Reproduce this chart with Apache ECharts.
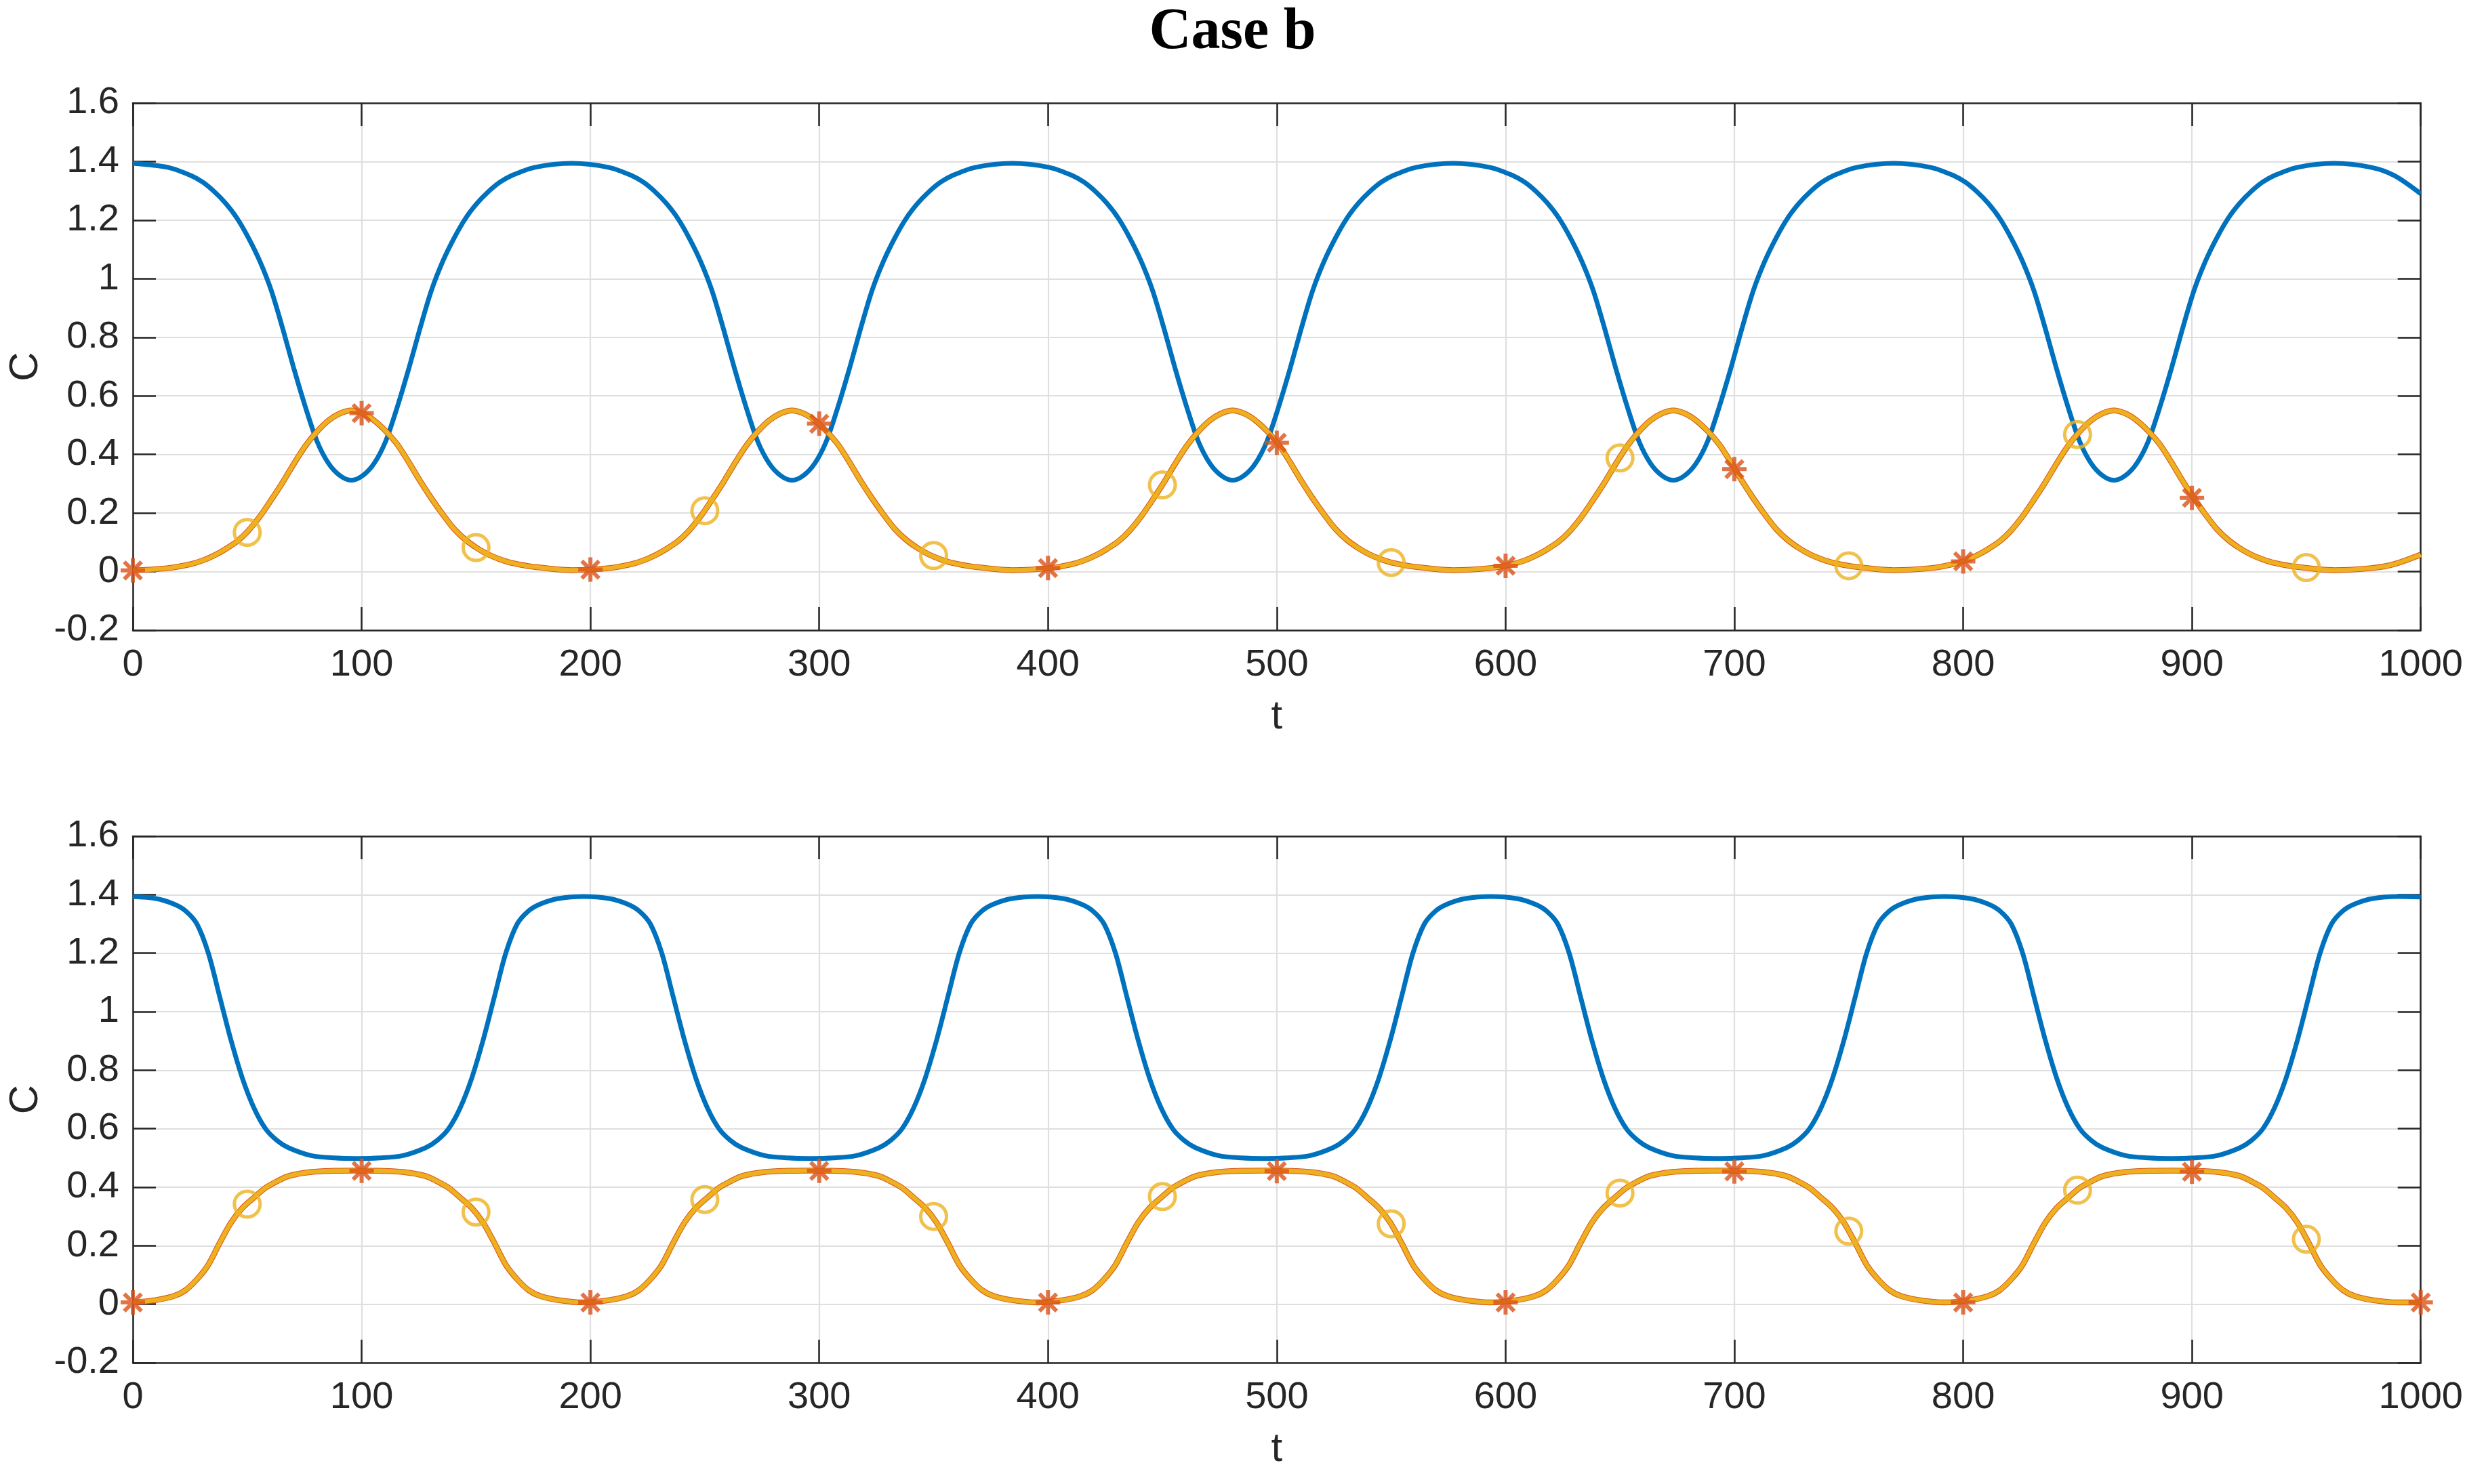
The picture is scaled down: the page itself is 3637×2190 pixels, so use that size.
<!DOCTYPE html>
<html>
<head>
<meta charset="utf-8">
<script src="https://cdn.jsdelivr.net/npm/echarts@6/dist/echarts.min.js"></script>
<style>html,body{margin:0;padding:0;background:#fff;}#c{width:3637px;height:2190px;}</style>
</head>
<body>
<div id="c"></div>
<script>
// ---------- data ----------
const xTicks = [0, 100, 200, 300, 400, 500, 600, 700, 800, 900, 1000];
const yTicks = [-0.2, 0, 0.2, 0.4, 0.6, 0.8, 1, 1.2, 1.4, 1.6];

// top panel: time samples
const tTop = [0,
 15.5, 25.5, 30.5, 35.5, 40.5, 45.5, 50.5, 55.5, 60.5, 65.5, 70.5, 75.5, 80.5, 85.5, 90.5, 95.5, 100.5, 105.5, 110.5, 115.5, 120.5, 125.5, 130.5, 135.5, 140.5, 145.5, 150.5, 155.5, 160.5, 165.5, 175.5, 191.8,
 208.1, 218.1, 223.1, 228.1, 233.1, 238.1, 243.1, 248.1, 253.1, 258.1, 263.1, 268.1, 273.1, 278.1, 283.1, 288.1, 293.1, 298.1, 303.1, 308.1, 313.1, 318.1, 323.1, 328.1, 333.1, 338.1, 343.1, 348.1, 353.1, 358.1, 368.1, 384.4,
 400.7, 410.7, 415.7, 420.7, 425.7, 430.7, 435.7, 440.7, 445.7, 450.7, 455.7, 460.7, 465.7, 470.7, 475.7, 480.7, 485.7, 490.7, 495.7, 500.7, 505.7, 510.7, 515.7, 520.7, 525.7, 530.7, 535.7, 540.7, 545.7, 550.7, 560.7, 577.0,
 593.3, 603.3, 608.3, 613.3, 618.3, 623.3, 628.3, 633.3, 638.3, 643.3, 648.3, 653.3, 658.3, 663.3, 668.3, 673.3, 678.3, 683.3, 688.3, 693.3, 698.3, 703.3, 708.3, 713.3, 718.3, 723.3, 728.3, 733.3, 738.3, 743.3, 753.3, 769.6,
 785.9, 795.9, 800.9, 805.9, 810.9, 815.9, 820.9, 825.9, 830.9, 835.9, 840.9, 845.9, 850.9, 855.9, 860.9, 865.9, 870.9, 875.9, 880.9, 885.9, 890.9, 895.9, 900.9, 905.9, 910.9, 915.9, 920.9, 925.9, 930.9, 935.9, 945.9, 962.2,
 978.5, 988.5, 1000];

const blueTop = [1.394,
 1.38, 1.352, 1.33, 1.298, 1.258, 1.207, 1.14, 1.06, 0.96, 0.83, 0.69, 0.56, 0.445, 0.37, 0.328, 0.312, 0.328, 0.37, 0.445, 0.56, 0.69, 0.83, 0.96, 1.06, 1.14, 1.207, 1.258, 1.298, 1.33, 1.352, 1.38, 1.394,
 1.38, 1.352, 1.33, 1.298, 1.258, 1.207, 1.14, 1.06, 0.96, 0.83, 0.69, 0.56, 0.445, 0.37, 0.328, 0.312, 0.328, 0.37, 0.445, 0.56, 0.69, 0.83, 0.96, 1.06, 1.14, 1.207, 1.258, 1.298, 1.33, 1.352, 1.38, 1.394,
 1.38, 1.352, 1.33, 1.298, 1.258, 1.207, 1.14, 1.06, 0.96, 0.83, 0.69, 0.56, 0.445, 0.37, 0.328, 0.312, 0.328, 0.37, 0.445, 0.56, 0.69, 0.83, 0.96, 1.06, 1.14, 1.207, 1.258, 1.298, 1.33, 1.352, 1.38, 1.394,
 1.38, 1.352, 1.33, 1.298, 1.258, 1.207, 1.14, 1.06, 0.96, 0.83, 0.69, 0.56, 0.445, 0.37, 0.328, 0.312, 0.328, 0.37, 0.445, 0.56, 0.69, 0.83, 0.96, 1.06, 1.14, 1.207, 1.258, 1.298, 1.33, 1.352, 1.38, 1.394,
 1.38, 1.352, 1.33, 1.298, 1.258, 1.207, 1.14, 1.06, 0.96, 0.83, 0.69, 0.56, 0.445, 0.37, 0.328, 0.312, 0.328, 0.37, 0.445, 0.56, 0.69, 0.83, 0.96, 1.06, 1.14, 1.207, 1.258, 1.298, 1.33, 1.352, 1.38, 1.394,
 1.38, 1.352, 1.29];

const yellowTop = [0.004,
 0.012, 0.026, 0.038, 0.055, 0.077, 0.103, 0.14, 0.188, 0.245, 0.305, 0.37, 0.43, 0.478, 0.516, 0.54, 0.55, 0.54, 0.516, 0.48, 0.435, 0.375, 0.31, 0.25, 0.195, 0.145, 0.108, 0.08, 0.058, 0.042, 0.03, 0.016, 0.005,
 0.012, 0.026, 0.038, 0.055, 0.077, 0.103, 0.14, 0.188, 0.245, 0.305, 0.37, 0.43, 0.478, 0.516, 0.54, 0.55, 0.54, 0.516, 0.48, 0.435, 0.375, 0.31, 0.25, 0.195, 0.145, 0.108, 0.08, 0.058, 0.042, 0.03, 0.016, 0.005,
 0.012, 0.026, 0.038, 0.055, 0.077, 0.103, 0.14, 0.188, 0.245, 0.305, 0.37, 0.43, 0.478, 0.516, 0.54, 0.55, 0.54, 0.516, 0.48, 0.435, 0.375, 0.31, 0.25, 0.195, 0.145, 0.108, 0.08, 0.058, 0.042, 0.03, 0.016, 0.005,
 0.012, 0.026, 0.038, 0.055, 0.077, 0.103, 0.14, 0.188, 0.245, 0.305, 0.37, 0.43, 0.478, 0.516, 0.54, 0.55, 0.54, 0.516, 0.48, 0.435, 0.375, 0.31, 0.25, 0.195, 0.145, 0.108, 0.08, 0.058, 0.042, 0.03, 0.016, 0.005,
 0.012, 0.026, 0.038, 0.055, 0.077, 0.103, 0.14, 0.188, 0.245, 0.305, 0.37, 0.43, 0.478, 0.516, 0.54, 0.55, 0.54, 0.516, 0.48, 0.435, 0.375, 0.31, 0.25, 0.195, 0.145, 0.108, 0.08, 0.058, 0.042, 0.03, 0.016, 0.005,
 0.012, 0.026, 0.058];

const starTTop = [0, 100, 200, 300, 400, 500, 600, 700, 800, 900];
const starTop  = [0.004, 0.541, 0.007, 0.505, 0.012, 0.44, 0.02, 0.35, 0.035, 0.252];
const circT    = [50, 150, 250, 350, 450, 550, 650, 750, 850, 950];
const circTop  = [0.134, 0.082, 0.208, 0.055, 0.296, 0.031, 0.388, 0.02, 0.468, 0.014];

// bottom panel
const tBot = [0,
 10, 18, 23, 28, 33, 38, 43, 48, 53, 58, 63, 68, 78, 88, 98, 108, 118, 128, 133, 138, 143, 148, 153, 158, 163, 168, 173, 178, 186, 197.1,
 208.2, 216.2, 221.2, 226.2, 231.2, 236.2, 241.2, 246.2, 251.2, 256.2, 261.2, 266.2, 276.2, 286.2, 296.2, 306.2, 316.2, 326.2, 331.2, 336.2, 341.2, 346.2, 351.2, 356.2, 361.2, 366.2, 371.2, 376.2, 384.2, 395.4,
 406.5, 414.5, 419.5, 424.5, 429.5, 434.5, 439.5, 444.5, 449.5, 454.5, 459.5, 464.5, 474.5, 484.5, 494.5, 504.5, 514.5, 524.5, 529.5, 534.5, 539.5, 544.5, 549.5, 554.5, 559.5, 564.5, 569.5, 574.5, 582.5, 593.6,
 604.8, 612.8, 617.8, 622.8, 627.8, 632.8, 637.8, 642.8, 647.8, 652.8, 657.8, 662.8, 672.8, 682.8, 692.8, 702.8, 712.8, 722.8, 727.8, 732.8, 737.8, 742.8, 747.8, 752.8, 757.8, 762.8, 767.8, 772.8, 780.8, 791.9,
 803, 811, 816, 821, 826, 831, 836, 841, 846, 851, 856, 861, 871, 881, 891, 901, 911, 921, 926, 931, 936, 941, 946, 951, 956, 961, 966, 971, 979, 990.1,
 1000];

const blueBot = [1.394,
 1.387, 1.368, 1.345, 1.30, 1.20, 1.05, 0.90, 0.77, 0.67, 0.60, 0.56, 0.535, 0.508, 0.500, 0.498, 0.500, 0.508, 0.535, 0.56, 0.60, 0.67, 0.77, 0.90, 1.05, 1.20, 1.30, 1.345, 1.368, 1.387, 1.394,
 1.387, 1.368, 1.345, 1.30, 1.20, 1.05, 0.90, 0.77, 0.67, 0.60, 0.56, 0.535, 0.508, 0.500, 0.498, 0.500, 0.508, 0.535, 0.56, 0.60, 0.67, 0.77, 0.90, 1.05, 1.20, 1.30, 1.345, 1.368, 1.387, 1.394,
 1.387, 1.368, 1.345, 1.30, 1.20, 1.05, 0.90, 0.77, 0.67, 0.60, 0.56, 0.535, 0.508, 0.500, 0.498, 0.500, 0.508, 0.535, 0.56, 0.60, 0.67, 0.77, 0.90, 1.05, 1.20, 1.30, 1.345, 1.368, 1.387, 1.394,
 1.387, 1.368, 1.345, 1.30, 1.20, 1.05, 0.90, 0.77, 0.67, 0.60, 0.56, 0.535, 0.508, 0.500, 0.498, 0.500, 0.508, 0.535, 0.56, 0.60, 0.67, 0.77, 0.90, 1.05, 1.20, 1.30, 1.345, 1.368, 1.387, 1.394,
 1.387, 1.368, 1.345, 1.30, 1.20, 1.05, 0.90, 0.77, 0.67, 0.60, 0.56, 0.535, 0.508, 0.500, 0.498, 0.500, 0.508, 0.535, 0.56, 0.60, 0.67, 0.77, 0.90, 1.05, 1.20, 1.30, 1.345, 1.368, 1.387, 1.394,
 1.392];

const yellowBot = [0.006,
 0.014, 0.028, 0.048, 0.085, 0.135, 0.21, 0.28, 0.33, 0.365, 0.398, 0.42, 0.438, 0.452, 0.456, 0.457, 0.456, 0.452, 0.438, 0.42, 0.398, 0.365, 0.33, 0.28, 0.21, 0.135, 0.085, 0.048, 0.028, 0.014, 0.006,
 0.014, 0.028, 0.048, 0.085, 0.135, 0.21, 0.28, 0.33, 0.365, 0.398, 0.42, 0.438, 0.452, 0.456, 0.457, 0.456, 0.452, 0.438, 0.42, 0.398, 0.365, 0.33, 0.28, 0.21, 0.135, 0.085, 0.048, 0.028, 0.014, 0.006,
 0.014, 0.028, 0.048, 0.085, 0.135, 0.21, 0.28, 0.33, 0.365, 0.398, 0.42, 0.438, 0.452, 0.456, 0.457, 0.456, 0.452, 0.438, 0.42, 0.398, 0.365, 0.33, 0.28, 0.21, 0.135, 0.085, 0.048, 0.028, 0.014, 0.006,
 0.014, 0.028, 0.048, 0.085, 0.135, 0.21, 0.28, 0.33, 0.365, 0.398, 0.42, 0.438, 0.452, 0.456, 0.457, 0.456, 0.452, 0.438, 0.42, 0.398, 0.365, 0.33, 0.28, 0.21, 0.135, 0.085, 0.048, 0.028, 0.014, 0.006,
 0.014, 0.028, 0.048, 0.085, 0.135, 0.21, 0.28, 0.33, 0.365, 0.398, 0.42, 0.438, 0.452, 0.456, 0.457, 0.456, 0.452, 0.438, 0.42, 0.398, 0.365, 0.33, 0.28, 0.21, 0.135, 0.085, 0.048, 0.028, 0.014, 0.006,
 0.006];

const starTBot = [0, 100, 200, 300, 400, 500, 600, 700, 800, 900, 1000];
const starBot  = [0.006, 0.456, 0.006, 0.456, 0.006, 0.455, 0.006, 0.454, 0.006, 0.453, 0.006];
const circBot  = [0.342, 0.315, 0.358, 0.30, 0.368, 0.275, 0.38, 0.25, 0.39, 0.222];

const titleText = 'Case b';
const xName = 't';
const yName = 'C';

// ---------- styling ----------
const BLUE = '#0072BD', RED = '#D95319', YEL = '#EDB120', INK = '#262626', GRID = '#DFDFDF';
const FONT = 'Liberation Sans';
const STAR = 'path://M0,-10L0,10M-10,0L10,0M-7.07,-7.07L7.07,7.07M-7.07,7.07L7.07,-7.07';

function pairs(xs, ys) { return xs.map((x, i) => [x, ys[i]]); }

const grids = [
  { left: 196, top: 152, width: 3376, height: 778 },
  { left: 196, top: 1234, width: 3376, height: 777 }
];

function xAxes(gi) {
  const base = { type: 'value', gridIndex: gi, min: xTicks[0], max: xTicks[xTicks.length - 1], interval: xTicks[1] - xTicks[0] };
  return [
    Object.assign({}, base, {
      position: 'bottom',
      axisLine: { show: true, onZero: false, lineStyle: { color: INK, width: 2.5 } },
      axisTick: { show: true, inside: true, length: 34, lineStyle: { color: INK, width: 2.5 } },
      splitLine: { show: true, lineStyle: { color: GRID, width: 2.2 } },
      axisLabel: { fontSize: 56, color: INK, fontFamily: FONT, margin: 24, formatter: v => String(v) },
      name: xName, nameLocation: 'middle', nameGap: 98,
      nameTextStyle: { fontSize: 60, color: INK, fontFamily: FONT }
    }),
    Object.assign({}, base, {
      position: 'top',
      axisLine: { show: true, onZero: false, lineStyle: { color: INK, width: 2.5 } },
      axisTick: { show: true, inside: true, length: 34, lineStyle: { color: INK, width: 2.5 } },
      splitLine: { show: false }, axisLabel: { show: false }
    })
  ];
}
function yAxes(gi) {
  const base = { type: 'value', gridIndex: gi, min: yTicks[0], max: yTicks[yTicks.length - 1], interval: 0.2 };
  return [
    Object.assign({}, base, {
      position: 'left',
      axisLine: { show: true, onZero: false, lineStyle: { color: INK, width: 2.5 } },
      axisTick: { show: true, inside: true, length: 34, lineStyle: { color: INK, width: 2.5 } },
      splitLine: { show: true, lineStyle: { color: GRID, width: 2.2 } },
      axisLabel: { fontSize: 56, color: INK, fontFamily: FONT, margin: 20,
                   formatter: v => String(Math.round(v * 10) / 10) },
      name: yName, nameLocation: 'middle', nameGap: 118, nameRotate: 90,
      nameTextStyle: { fontSize: 60, color: INK, fontFamily: FONT }
    }),
    Object.assign({}, base, {
      position: 'right',
      axisLine: { show: true, onZero: false, lineStyle: { color: INK, width: 2.5 } },
      axisTick: { show: true, inside: true, length: 34, lineStyle: { color: INK, width: 2.5 } },
      splitLine: { show: false }, axisLabel: { show: false }
    })
  ];
}

function panelSeries(gi, t, blue, yel, sT, sV, cV) {
  const xi = gi * 2, yi = gi * 2;
  const common = { type: 'line', xAxisIndex: xi, yAxisIndex: yi, showSymbol: false, symbol: 'none',
                   smooth: 0.3, animation: false, silent: true };
  return [
    Object.assign({}, common, { data: pairs(t, blue), lineStyle: { color: BLUE, width: 7 }, z: 2 }),
    Object.assign({}, common, { data: pairs(t, yel), lineStyle: { color: RED, width: 8.5 }, z: 3 }),
    Object.assign({}, common, { data: pairs(t, yel), lineStyle: { color: YEL, width: 6.5 }, z: 4 }),
    { type: 'scatter', xAxisIndex: xi, yAxisIndex: yi, data: pairs(sT, sV), symbol: STAR, symbolSize: 36,
      itemStyle: { color: RED, borderColor: RED, borderWidth: 6 }, clip: false, z: 5, silent: true, animation: false },
    { type: 'scatter', xAxisIndex: xi, yAxisIndex: yi, data: pairs(circT, cV), symbol: 'circle', symbolSize: 38,
      itemStyle: { color: 'rgba(0,0,0,0)', borderColor: YEL, borderWidth: 5 }, clip: false, z: 6, silent: true, animation: false }
  ];
}

const chart = echarts.init(document.getElementById('c'), null, { renderer: 'canvas' });
chart.setOption({
  backgroundColor: '#ffffff',
  animation: false,
  title: { text: titleText, left: 'center', top: 6, padding: 0,
           textStyle: { fontFamily: 'Liberation Serif', fontWeight: 'bold', fontSize: 86, color: '#000' } },
  grid: grids,
  xAxis: [...xAxes(0), ...xAxes(1)],
  yAxis: [...yAxes(0), ...yAxes(1)],
  series: [
    ...panelSeries(0, tTop, blueTop, yellowTop, starTTop, starTop, circTop),
    ...panelSeries(1, tBot, blueBot, yellowBot, starTBot, starBot, circBot)
  ]
});
</script>
</body>
</html>
